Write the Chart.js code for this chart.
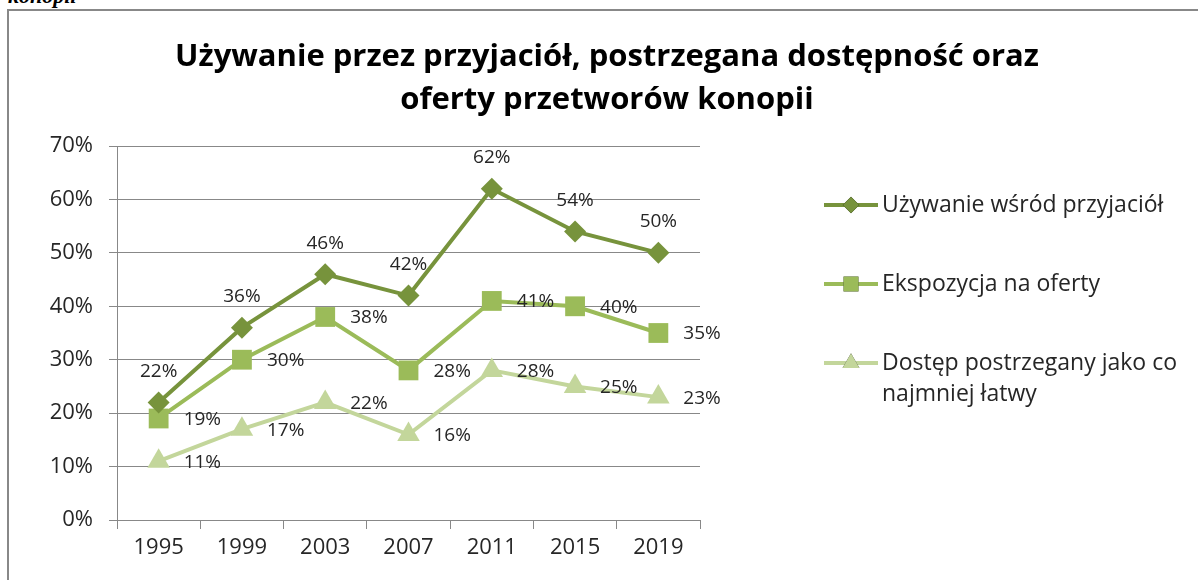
<!DOCTYPE html>
<html>
<head>
<meta charset="utf-8">
<script src="https://cdn.jsdelivr.net/npm/chart.js@4.4.1/dist/chart.umd.min.js"></script>
<style>
  html, body { margin: 0; padding: 0; background: #fff; }
  body { width: 1198px; height: 580px; position: relative; overflow: hidden; }
  .caption {
    position: absolute; left: 8px; top: -17px;
    font: italic bold 22px "Liberation Serif", serif; color: #000;
  }
  .frame {
    position: absolute; left: 7px; top: 9px; width: 1200px; height: 600px;
    border: 2px solid #888; box-sizing: border-box;
  }
  #chart { position: absolute; left: 0; top: 0; }
</style>
</head>
<body>
<div class="caption">konopii</div>
<div class="frame"></div>
<canvas id="chart" width="1198" height="580"></canvas>
<script>
const years = ["1995", "1999", "2003", "2007", "2011", "2015", "2019"];
const friendsUse = [22, 36, 46, 42, 62, 54, 50];
const offerExposure = [19, 30, 38, 28, 41, 40, 35];
const easyAccess = [11, 17, 22, 16, 28, 25, 23];
const seriesNames = [
  ["Używanie wśród przyjaciół"],
  ["Ekspozycja na oferty"],
  ["Dostęp postrzegany jako co", "najmniej łatwy"],
];
const titleLines = [
  "Używanie przez przyjaciół, postrzegana dostępność oraz",
  "oferty przetworów konopii",
];

const FONT = "'Open Sans', 'Noto Sans', sans-serif";
const TEXT = "#262626";
const COLOURS = ["#77933C", "#9BBB59", "#C3D69B"];

// title drawn by hand so it centres on the whole frame, not the plot
const frameTitle = {
  id: "frameTitle",
  afterDraw(chart) {
    const ctx = chart.ctx;
    ctx.save();
    ctx.font = "bold 31px " + FONT;
    ctx.fillStyle = "#000";
    ctx.textAlign = "center";
    ctx.textBaseline = "middle";
    titleLines.forEach((line, i) => ctx.fillText(line, 607, 57 + i * 43));
    ctx.restore();
  },
};

// data labels: above for the first series, to the right for the others
const valueLabels = {
  id: "valueLabels",
  afterDatasetsDraw(chart) {
    const ctx = chart.ctx;
    ctx.save();
    ctx.font = "19px " + FONT;
    ctx.fillStyle = TEXT;
    ctx.textBaseline = "middle";
    chart.data.datasets.forEach((ds, i) => {
      const meta = chart.getDatasetMeta(i);
      meta.data.forEach((pt, j) => {
        const text = ds.data[j] + "%";
        if (ds.labelAbove) {
          ctx.textAlign = "center";
          ctx.fillText(text, pt.x, pt.y - 31);
        } else {
          ctx.textAlign = "left";
          ctx.fillText(text, pt.x + 25, pt.y + 1);
        }
      });
    });
    ctx.restore();
  },
};

// legend at the right, drawn by hand so the last entry can wrap
const sideLegend = {
  id: "sideLegend",
  afterDraw(chart) {
    const ctx = chart.ctx;
    const x0 = 824, x1 = 878, textX = 882;
    const rows = [205, 284, 363];
    ctx.save();
    chart.data.datasets.forEach((ds, i) => {
      const y = rows[i];
      ctx.strokeStyle = ds.borderColor;
      ctx.lineWidth = 4;
      ctx.beginPath();
      ctx.moveTo(x0, y);
      ctx.lineTo(x1, y);
      ctx.stroke();
      Chart.helpers.drawPoint(ctx, {
        pointStyle: ds.pointStyle,
        radius: ds.pointRadius * 0.75,
        borderWidth: 0,
      }, (x0 + x1) / 2, y);
      ctx.fillStyle = ds.borderColor;
      ctx.fill();
      ctx.fillStyle = TEXT;
      ctx.font = "23px " + FONT;
      ctx.textAlign = "left";
      ctx.textBaseline = "middle";
      seriesNames[i].forEach((line, k) => {
        ctx.fillText(line, textX, y + k * 31);
      });
    });
    ctx.restore();
  },
};

new Chart(document.getElementById("chart"), {
  type: "line",
  data: {
    labels: years,
    datasets: [
      {
        data: friendsUse,
        borderColor: COLOURS[0],
        backgroundColor: COLOURS[0],
        pointStyle: "rectRot",
        pointRadius: 11,
        labelAbove: true,
      },
      {
        data: offerExposure,
        borderColor: COLOURS[1],
        backgroundColor: COLOURS[1],
        pointStyle: "rect",
        pointRadius: 14,
      },
      {
        data: easyAccess,
        borderColor: COLOURS[2],
        backgroundColor: COLOURS[2],
        pointStyle: "triangle",
        pointRadius: 13,
      },
    ].map((d) => ({
      ...d,
      borderWidth: 4,
      pointBorderWidth: 0,
      pointHoverRadius: d.pointRadius,
      tension: 0,
      fill: false,
    })),
  },
  options: {
    responsive: false,
    animation: false,
    events: [],
    layout: { padding: { left: 16, right: 498, top: 146, bottom: 0 } },
    plugins: {
      legend: { display: false },
      tooltip: { enabled: false },
      title: { display: false },
    },
    scales: {
      x: {
        offset: true,
        grid: {
          offset: true,
          drawOnChartArea: false,
          color: "#888",
          tickLength: 9,
        },
        border: { color: "#888", width: 1 },
        ticks: { color: TEXT, font: { family: FONT, size: 22 }, padding: 6 },
        afterFit(scale) { scale.height = 60; },
      },
      y: {
        min: 0,
        max: 70,
        ticks: {
          stepSize: 10,
          color: TEXT,
          font: { family: FONT, size: 22 },
          padding: 16,
          callback: (v) => v + "%",
        },
        grid: { color: "#888", tickLength: 8 },
        border: { color: "#888", width: 1 },
        afterFit(scale) { scale.width = 101; },
      },
    },
  },
  plugins: [valueLabels, sideLegend, frameTitle],
});
</script>
</body>
</html>
